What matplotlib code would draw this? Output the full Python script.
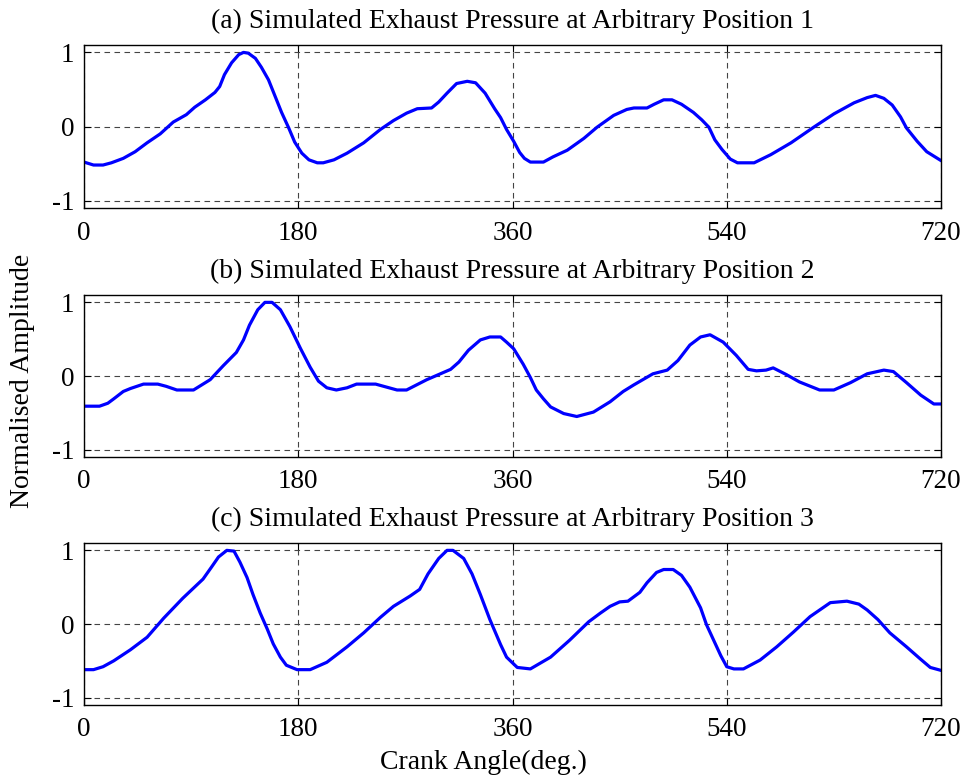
import matplotlib
matplotlib.use("Agg")
import matplotlib.pyplot as plt

plt.rcParams['font.family'] = ['Liberation Serif', 'DejaVu Serif']
plt.rcParams['axes.unicode_minus'] = False

# Panel (a)
angle_a = [0, 4, 8, 16, 23, 33, 43, 53, 64, 75, 86, 93, 102, 110, 114, 118, 124, 130, 134, 138,
           144, 149, 155, 160, 166, 172, 177, 183, 189, 196, 201, 210, 221, 235, 249, 260, 271,
           280, 292, 298, 305, 313, 322, 329, 337, 345, 350, 355, 361, 366, 370, 375, 386, 394,
           406, 420, 431, 445, 456, 462, 473, 479, 487, 494, 502, 512, 519, 525, 530, 536, 543,
           549, 563, 577, 594, 613, 630, 647, 658, 665, 672, 679, 686, 691, 700, 708, 720]
amp_a = [-0.48, -0.50, -0.52, -0.52, -0.49, -0.43, -0.34, -0.22, -0.10, 0.06, 0.16, 0.26, 0.36,
         0.46, 0.54, 0.70, 0.86, 0.97, 1.0, 0.99, 0.92, 0.80, 0.63, 0.43, 0.19, -0.02, -0.21,
         -0.36, -0.45, -0.49, -0.49, -0.45, -0.36, -0.22, -0.04, 0.08, 0.18, 0.24, 0.25, 0.33,
         0.45, 0.58, 0.61, 0.59, 0.45, 0.24, 0.12, -0.04, -0.20, -0.35, -0.43, -0.48, -0.48,
         -0.41, -0.32, -0.16, -0.01, 0.15, 0.23, 0.25, 0.25, 0.30, 0.36, 0.36, 0.30, 0.19, 0.09,
         -0.01, -0.18, -0.31, -0.44, -0.49, -0.49, -0.38, -0.22, -0.01, 0.17, 0.32, 0.39, 0.42,
         0.38, 0.29, 0.13, -0.02, -0.20, -0.34, -0.46]

# Panel (b)
angle_b = [0, 13, 20, 25, 33, 39, 50, 62, 69, 78, 92, 99, 106, 117, 128, 134, 139, 146, 152, 158,
           165, 173, 182, 190, 197, 204, 212, 221, 229, 245, 254, 263, 271, 288, 308, 315, 323,
           333, 341, 350, 355, 361, 369, 375, 380, 386, 392, 403, 414, 428, 442, 453, 462, 478,
           490, 499, 509, 518, 526, 537, 548, 558, 565, 573, 579, 590, 601, 618, 630, 644, 658,
           672, 680, 691, 703, 714, 720]
amp_b = [-0.41, -0.41, -0.37, -0.31, -0.21, -0.17, -0.11, -0.11, -0.14, -0.19, -0.19, -0.12,
         -0.05, 0.14, 0.32, 0.49, 0.69, 0.90, 1.0, 1.0, 0.90, 0.67, 0.37, 0.12, -0.07, -0.16,
         -0.19, -0.16, -0.11, -0.11, -0.15, -0.19, -0.19, -0.05, 0.09, 0.19, 0.35, 0.49, 0.53,
         0.53, 0.46, 0.37, 0.16, -0.02, -0.19, -0.31, -0.42, -0.51, -0.55, -0.49, -0.35, -0.21,
         -0.12, 0.03, 0.08, 0.21, 0.42, 0.53, 0.56, 0.46, 0.28, 0.09, 0.07, 0.08, 0.11, 0.02,
         -0.08, -0.19, -0.19, -0.09, 0.03, 0.08, 0.06, -0.09, -0.26, -0.38, -0.38]

# Panel (c)
angle_c = [0, 8, 16, 25, 39, 53, 67, 83, 100, 107, 113, 120, 126, 131, 137, 142, 148, 154, 159,
           165, 170, 179, 190, 204, 221, 235, 249, 260, 274, 282, 289, 298, 305, 310, 319, 326,
           333, 341, 350, 355, 364, 375, 392, 408, 424, 434, 442, 450, 457, 467, 473, 481, 487,
           495, 502, 509, 518, 523, 529, 535, 540, 546, 554, 568, 582, 596, 610, 627, 641, 651,
           658, 667, 677, 691, 703, 711, 720]
amp_c = [-0.62, -0.62, -0.58, -0.50, -0.35, -0.18, 0.08, 0.35, 0.61, 0.77, 0.91, 1.0, 0.99, 0.84,
         0.63, 0.40, 0.15, -0.07, -0.27, -0.45, -0.56, -0.62, -0.62, -0.52, -0.31, -0.12, 0.09,
         0.24, 0.38, 0.47, 0.68, 0.89, 1.0, 1.0, 0.89, 0.68, 0.40, 0.06, -0.28, -0.45, -0.59,
         -0.61, -0.45, -0.22, 0.03, 0.15, 0.24, 0.30, 0.31, 0.43, 0.56, 0.70, 0.74, 0.74, 0.66,
         0.50, 0.22, -0.01, -0.22, -0.43, -0.58, -0.61, -0.61, -0.49, -0.31, -0.11, 0.10, 0.29,
         0.31, 0.27, 0.19, 0.06, -0.12, -0.31, -0.48, -0.59, -0.63]

titles = ["(a) Simulated Exhaust Pressure at Arbitrary Position 1",
          "(b) Simulated Exhaust Pressure at Arbitrary Position 2",
          "(c) Simulated Exhaust Pressure at Arbitrary Position 3"]
xticks = [0, 180, 360, 540, 720]
yticks = [-1, 0, 1]

W, H = 967, 778
fig = plt.figure(figsize=(W / 100, H / 100), dpi=100)
positions = [(84, 45, 208), (84, 295, 457), (84, 543, 705)]
data = [(angle_a, amp_a), (angle_b, amp_b), (angle_c, amp_c)]
for (left, top, bottom), (xs, ys), title in zip(positions, data, titles):
    ax = fig.add_axes([left / W, 1 - bottom / H, (941 - left) / W, (bottom - top) / H])
    ax.plot(xs, ys, color='#0000FF', linewidth=2.3, solid_joinstyle='round')
    ax.set_xlim(0, 720)
    ax.set_ylim(-1.1, 1.1)
    ax.set_xticks(xticks)
    ax.set_yticks(yticks)
    ax.tick_params(direction='in', top=True, right=True, labelsize=19.5, length=5, width=0.8)
    ax.tick_params(axis='x', pad=9)
    ax.tick_params(axis='y', pad=7)
    ax.grid(True, linestyle=(0, (5, 4)), color='#444444', linewidth=0.8)
    for sp in ax.spines.values():
        sp.set_linewidth(1.0)
    ax.set_title(title, fontsize=20, pad=12)

fig.text(0.5, 1 - 762 / H, "Crank Angle(deg.)", ha='center', va='center', fontsize=20)
fig.text(23 / W, 1 - 381 / H, "Normalised Amplitude", ha='center', va='center', rotation=90, fontsize=20)

fig.savefig("out.png", dpi=100)
